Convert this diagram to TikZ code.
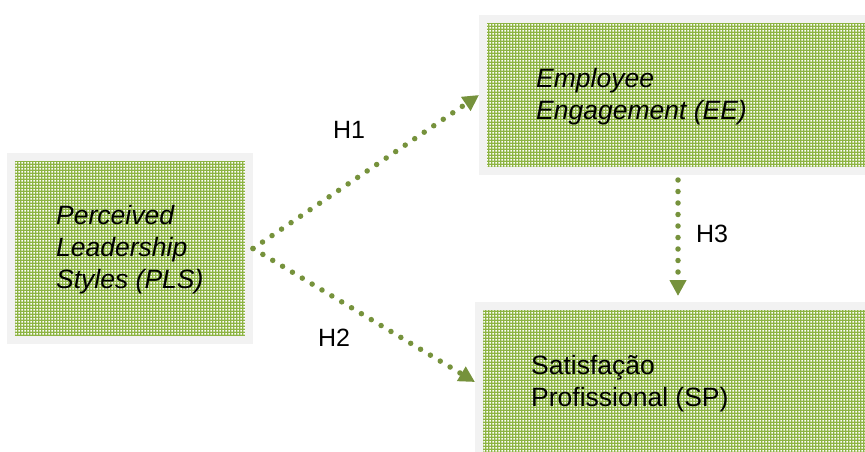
\documentclass[tikz,border=0pt]{standalone}
\usepackage{fontspec}
\setmainfont{Liberation Sans}
\usetikzlibrary{arrows.meta,patterns}
\pgfdeclarepatternformonly{wsq}{\pgfpointorigin}{\pgfpoint{3pt}{3pt}}{\pgfpoint{3pt}{3pt}}{%
  \pgfpathrectangle{\pgfpoint{0.55pt}{0.55pt}}{\pgfpoint{1.9pt}{1.9pt}}\pgfusepath{fill}}
\definecolor{boxgreen}{HTML}{8DB443}
\definecolor{framegray}{HTML}{F2F2F2}
\definecolor{arrowgreen}{HTML}{76923C}
\tikzset{
  box/.style={rectangle, draw=framegray, line width=8pt, outer sep=4pt, inner sep=0pt,
    preaction={fill=boxgreen}, preaction={pattern=wsq, pattern color=white}},
  lbl/.style={font=\fontsize{26.5}{32}\selectfont, inner sep=0pt, align=left},
  hyp/.style={font=\fontsize{25}{28}\selectfont, inner sep=0pt},
  arr/.style={draw=arrowgreen, line width=5.5pt, line cap=round,
    dash pattern=on 0pt off 11.5pt,
    -{Triangle[length=16pt,width=16pt,fill=arrowgreen]}}
}
\begin{document}
\begin{tikzpicture}[x=1pt,y=-1pt]
\useasboundingbox (0,0) rectangle (865,452);
\clip (0,0) rectangle (865,452);
\node[box, minimum width=238pt, minimum height=183pt] (PLS) at (130,248.5) {};
\node[box, minimum width=417pt, minimum height=152pt] (EE) at (691.5,95) {};
\node[box, minimum width=421pt, minimum height=152pt] (SP) at (689.5,382) {};
\node[lbl, anchor=west] (tPLS) at (56,250) {\itshape Perceived\\\itshape Leadership\\\itshape Styles (PLS)};
\node[lbl, anchor=west] (tEE) at (536,97) {\itshape Employee\\\itshape Engagement (EE)};
\node[lbl, anchor=west] (tSP) at (531,384) {Satisfação\\Profissional (SP)};
\coordinate (h3x) at (678,0);
\draw[arr] (PLS.east) -- (EE.west);
\draw[arr] (PLS.east) -- (SP.west);
\draw[arr, shorten <=5pt, shorten >=6pt] (EE.south -| h3x) -- (SP.north -| h3x);
\node[hyp] (H1) at (349,130) {H1};
\node[hyp] (H2) at (334,338) {H2};
\node[hyp] (H3) at (712,234) {H3};
\end{tikzpicture}
\end{document}
